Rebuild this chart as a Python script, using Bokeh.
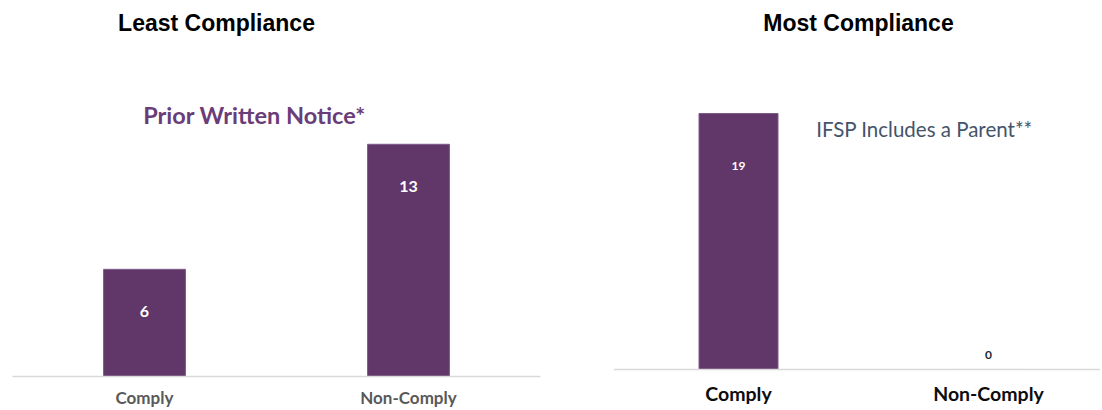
from bokeh.plotting import figure
from bokeh.models import ColumnDataSource, Range1d, FixedTicker, Label, Span
from bokeh.layouts import row
from bokeh.core.properties import value
from bokeh.embed import file_html
from bokeh.resources import INLINE
import numpy as np

# ---- data ----
categories = ["Comply", "Non-Comply"]
least_values = [6, 13]
most_values = [19, 0]
least_title = "Least Compliance"
most_title = "Most Compliance"
least_subtitle = "Prior Written Notice*"
most_subtitle = "IFSP Includes a Parent**"

BAR = "#613669"
BAR_EDGE = "#7d5a88"
AXIS = "#d9d9d9"

xs = list(np.arange(len(categories)) + 0.5)
overrides = {float(x): c for x, c in zip(xs, categories)}


def base_fig(width, height, y_start, y_end, x_end, border_left, border_right, border_bottom):
    p = figure(width=width, height=height, output_backend="svg", toolbar_location=None,
               x_range=Range1d(0, x_end), y_range=Range1d(y_start, y_end),
               y_axis_location=None, min_border_left=border_left,
               min_border_right=border_right, min_border_top=0,
               min_border_bottom=border_bottom)
    p.outline_line_color = None
    p.xgrid.visible = False
    p.ygrid.visible = False
    p.background_fill_color = "white"
    p.border_fill_color = "white"
    ax = p.xaxis[0]
    ax.ticker = FixedTicker(ticks=xs)
    ax.major_label_overrides = overrides
    ax.axis_line_color = AXIS
    ax.axis_line_width = 1.5
    ax.major_tick_line_color = None
    ax.minor_tick_line_color = None
    ax.major_tick_out = 0
    ax.major_tick_in = 0
    ax.minor_tick_out = 0
    ax.axis_label_standoff = 0
    return p


# ---- left chart ----
p1 = base_fig(580, 410, 0, 21.05, 2.0, 12, 40, 34)
src1 = ColumnDataSource(dict(x=xs, v=least_values, t=[str(v) for v in least_values]))
p1.vbar(x="x", top="v", width=0.31, source=src1, fill_color=BAR, line_color=BAR_EDGE)
p1.text(x="x", y="v", text="t", source=src1, y_offset=42, text_align="center",
        text_baseline="middle", text_color="white", text_font=value("Lato"),
        text_font_style="bold", text_font_size="16px")
ax1 = p1.xaxis[0]
ax1.major_label_text_font = "Lato"
ax1.major_label_text_font_style = "bold"
ax1.major_label_text_font_size = "17px"
ax1.major_label_text_color = "#595959"
ax1.major_label_standoff = 10
p1.add_layout(Label(x=204, y=354, x_units="screen", y_units="screen", text=least_title,
                    text_align="center", text_baseline="middle", text_font="Liberation Sans",
                    text_font_style="bold", text_font_size="23px", text_color="black"))
p1.add_layout(Label(x=242, y=262, x_units="screen", y_units="screen", text=least_subtitle,
                    text_align="center", text_baseline="middle", text_font="Lato",
                    text_font_style="bold", text_font_size="23.5px", text_color="#6a3d78"))

# ---- right chart ----
p2 = base_fig(520, 410, -0.52, 27.39, 487 / 250, 33, 0, 34)
p2.xaxis[0].axis_line_color = None
p2.add_layout(Span(location=0, dimension="width", line_color=AXIS, line_width=1.5))
inside = [v > 0 for v in most_values]
src2 = ColumnDataSource(dict(x=xs, v=most_values))
p2.vbar(x="x", top="v", width=0.316, source=src2, fill_color=BAR, line_color=BAR_EDGE)
src2_in = ColumnDataSource(dict(x=[x for x, i in zip(xs, inside) if i],
                                v=[v for v, i in zip(most_values, inside) if i],
                                t=[str(v) for v, i in zip(most_values, inside) if i]))
src2_out = ColumnDataSource(dict(x=[x for x, i in zip(xs, inside) if not i],
                                 v=[v for v, i in zip(most_values, inside) if not i],
                                 t=[str(v) for v, i in zip(most_values, inside) if not i]))
p2.text(x="x", y="v", text="t", source=src2_in, y_offset=52, text_align="center",
        text_baseline="middle", text_color="white", text_font=value("Lato"),
        text_font_style="bold", text_font_size="12px")
p2.text(x="x", y="v", text="t", source=src2_out, y_offset=-14, text_align="center",
        text_baseline="middle", text_color="#222a35", text_font=value("Lato"),
        text_font_style="bold", text_font_size="12px")
ax2 = p2.xaxis[0]
ax2.major_label_text_font = "Lato"
ax2.major_label_text_font_style = "bold"
ax2.major_label_text_font_size = "19.5px"
ax2.major_label_text_color = "#0d0d0d"
ax2.major_label_standoff = 5
p2.add_layout(Label(x=245, y=354, x_units="screen", y_units="screen", text=most_title,
                    text_align="center", text_baseline="middle", text_font="Liberation Sans",
                    text_font_style="bold", text_font_size="23px", text_color="black"))
p2.add_layout(Label(x=311, y=248, x_units="screen", y_units="screen", text=most_subtitle,
                    text_align="center", text_baseline="middle", text_font="Lato",
                    text_font_style="normal", text_font_size="20.5px", text_color="#44546a"))

layout = row(p1, p2)
open("out.html", "w").write(file_html(layout, INLINE))
